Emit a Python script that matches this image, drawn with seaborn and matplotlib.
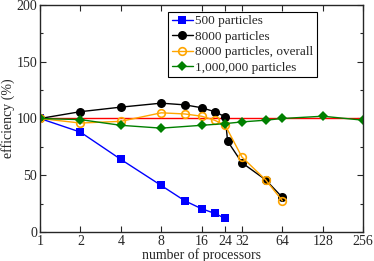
import matplotlib
matplotlib.use("Agg")
import matplotlib.pyplot as plt
import seaborn as sns
import numpy as np
from matplotlib.ticker import FixedLocator, MultipleLocator, NullFormatter

# data
procs_500 = [1, 2, 4, 8, 12, 16, 20, 24]
eff_500 = [100, 88, 64, 41, 27.5, 20.5, 16.5, 12]

procs_8000 = [1, 2, 4, 8, 12, 16, 20, 24, 25, 32, 48, 64]
eff_8000 = [100, 106, 110, 113.5, 112, 109.5, 106, 101.5, 80, 61, 46, 30.5]

procs_8000_all = [1, 2, 4, 8, 12, 16, 20, 24, 32, 48, 64]
eff_8000_all = [100, 96, 97.5, 105, 104, 102, 98.5, 94, 66, 46, 27.5]

procs_1m = [1, 2, 4, 8, 16, 24, 32, 48, 64, 128, 256]
eff_1m = [100, 99, 94, 91.5, 94, 95.5, 97, 98.5, 100, 102, 98.5]

ideal_x = [1, 256]
ideal_y = [100, 100]

xticks = [1, 2, 4, 8, 16, 24, 32, 64, 128, 256]

sns.set_style("ticks")
plt.rcParams['font.family'] = ['Liberation Serif', 'DejaVu Serif']
plt.rcParams['font.size'] = 9

fig, ax = plt.subplots(figsize=(3.74, 2.61), dpi=100)
fig.subplots_adjust(left=0.107, right=0.971, top=0.981, bottom=0.111)

sns.lineplot(x=ideal_x, y=ideal_y, color='red', lw=1, ax=ax)
sns.lineplot(x=procs_500, y=eff_500, color='blue', marker='s', ms=5.5, mew=0,
             lw=1, label='500 particles', ax=ax)
sns.lineplot(x=procs_8000, y=eff_8000, color='black', marker='o', ms=6.5, mew=0,
             lw=1, label='8000 particles', ax=ax)
sns.lineplot(x=procs_8000_all, y=eff_8000_all, color='orange', marker='o', ms=5.5,
             mfc='none', mec='orange', mew=1.2, lw=1,
             label='8000 particles, overall', ax=ax)
sns.lineplot(x=procs_1m, y=eff_1m, color='green', marker='D', ms=5.5, mew=0,
             lw=1, label='1,000,000 particles', ax=ax)

ax.set_xscale('log', base=2)
ax.set_xlim(1, 256)
ax.set_ylim(0, 200)
ax.xaxis.set_major_locator(FixedLocator(xticks))
ax.set_xticklabels([str(t) for t in xticks])
ax.xaxis.set_minor_formatter(NullFormatter())
ax.xaxis.set_minor_locator(FixedLocator([]))
ax.yaxis.set_major_locator(MultipleLocator(50))
ax.yaxis.set_minor_locator(MultipleLocator(25))
ax.tick_params(which='both', direction='in', top=True, right=True, width=0.8)
ax.tick_params(which='major', length=4, labelsize=10, pad=2)
ax.tick_params(which='minor', length=2)
for s in ax.spines.values():
    s.set_linewidth(1)
    s.set_visible(True)

ax.set_xlabel('number of processors', fontsize=10, labelpad=0)
ax.set_ylabel('efficiency (%)', fontsize=10, labelpad=1)

leg = ax.legend(loc='upper left', bbox_to_anchor=(0.397, 0.97), fontsize=9.5,
                handlelength=1.6, handletextpad=0.2, borderpad=0.25,
                labelspacing=0.25, fancybox=False, framealpha=1,
                borderaxespad=0)
leg.get_frame().set_edgecolor('black')
leg.get_frame().set_linewidth(0.8)

fig.savefig('out.png', dpi=100)
